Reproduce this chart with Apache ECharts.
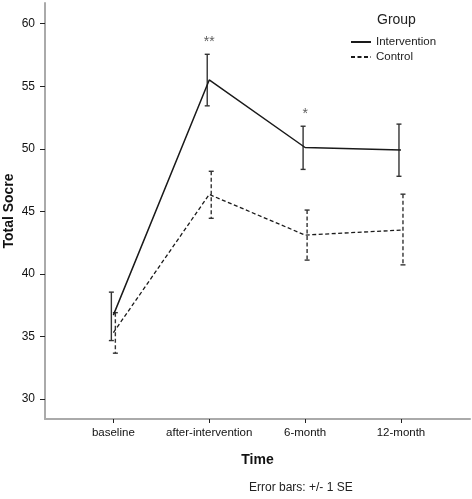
<!DOCTYPE html>
<html><head><meta charset="utf-8">
<script src="https://cdn.jsdelivr.net/npm/echarts@6/dist/echarts.min.js"></script>
<style>html,body{margin:0;padding:0;background:#fff}#c{width:472px;height:499px}</style>
</head><body><div id="c"></div>
<script>
const categories = ['baseline', 'after-intervention', '6-month', '12-month'];
const interventionMean = [36.7, 55.5, 50.1, 49.9];
const interventionLow = [34.67, 53.43, 48.35, 47.8];
const interventionHigh = [38.54, 57.55, 51.8, 51.97];
const controlMean = [35.3, 46.35, 43.1, 43.5];
const controlLow = [33.66, 44.44, 41.1, 40.72];
const controlHigh = [36.9, 48.2, 45.1, 46.37];
const significance = ['', '**', '*', ''];
const yTicks = [30, 35, 40, 45, 50, 55, 60];
const xPos = [1, 2, 3, 4];

const FONT = '"Liberation Sans", Arial, sans-serif';
const chart = echarts.init(document.getElementById('c'));

function errBar(dx, dash) {
  return function (params, api) {
    const x = api.value(0), lo = api.value(1), hi = api.value(2);
    const a = api.coord([x, hi]), b = api.coord([x, lo]);
    const cx = a[0] + dx, h = 2.5;
    const st = { stroke: '#333', lineWidth: 1.4, lineDash: dash };
    const capSt = { stroke: '#333', lineWidth: 1.4 };
    return { type: 'group', children: [
      { type: 'line', shape: { x1: cx, y1: a[1], x2: cx, y2: b[1] }, style: st },
      { type: 'line', shape: { x1: cx - h, y1: a[1], x2: cx + h, y2: a[1] }, style: capSt },
      { type: 'line', shape: { x1: cx - h, y1: b[1], x2: cx + h, y2: b[1] }, style: capSt }
    ]};
  };
}

chart.setOption({
  animation: false,
  textStyle: { fontFamily: FONT },
  title: { text: 'Group', left: 372, top: 8, textStyle: { fontSize: 14, fontWeight: 'normal', color: '#222', fontFamily: FONT } },
  legend: {
    orient: 'vertical', left: 345, top: 31, itemWidth: 20, itemHeight: 10, itemGap: 3,
    itemStyle: { opacity: 0 },
    textStyle: { fontSize: 11.5, color: '#222', fontFamily: FONT },
    data: ['Intervention', 'Control']
  },
  grid: { left: 45, right: 2, top: 3, bottom: 80, outerBoundsMode: 'none', containLabel: false },
  xAxis: {
    type: 'value', min: 0.287, max: 4.72,
    name: 'Time', nameLocation: 'middle', nameGap: 34,
    nameTextStyle: { fontSize: 14, fontWeight: 'bold', color: '#111' },
    axisLine: { onZero: false, lineStyle: { color: '#aaa', width: 2 } },
    axisTick: { show: true, customValues: xPos, length: 4, lineStyle: { color: '#222' } },
    axisLabel: { customValues: xPos, formatter: v => categories[Math.round(v) - 1] || '', fontSize: 11.5, color: '#111', margin: 8 },
    splitLine: { show: false }
  },
  yAxis: {
    type: 'value', min: 28.4, max: 61.65,
    axisLine: { show: true, lineStyle: { color: '#aaa', width: 2 } },
    axisTick: { show: true, customValues: yTicks, length: 5, lineStyle: { color: '#222' } },
    axisLabel: { customValues: yTicks, fontSize: 12, color: '#111', margin: 10 },
    splitLine: { show: false }
  },
  graphic: [
    { type: 'text', left: 249, top: 482, style: { text: 'Error bars: +/- 1 SE', font: '12px ' + FONT, fill: '#222' } },
    { type: 'text', x: 9, y: 211, rotation: Math.PI / 2,
      style: { text: 'Total Socre', font: 'bold 14px ' + FONT, fill: '#111', align: 'center', verticalAlign: 'middle' } }
  ],
  series: [
    { name: 'Intervention', type: 'line', symbol: 'none', data: xPos.map((x, i) => [x, interventionMean[i]]),
      lineStyle: { color: '#1a1a1a', width: 1.5, type: 'solid' }, itemStyle: { color: '#1a1a1a' }, z: 3 },
    { name: 'Control', type: 'line', symbol: 'none', data: xPos.map((x, i) => [x, controlMean[i]]),
      lineStyle: { color: '#1a1a1a', width: 1.3, type: [4, 2.5] }, itemStyle: { color: '#1a1a1a' }, z: 3 },
    { type: 'custom', renderItem: errBar(-2, null), data: xPos.map((x, i) => [x, interventionLow[i], interventionHigh[i]]), z: 2 },
    { type: 'custom', renderItem: errBar(2, [4, 2.5]), data: xPos.map((x, i) => [x, controlLow[i], controlHigh[i]]), z: 2 },
    { type: 'scatter', symbolSize: 0, silent: true,
      data: xPos.map((x, i) => ({ value: [x, interventionHigh[i]], label: { show: !!significance[i], formatter: significance[i] } })),
      label: { position: 'top', distance: 5, fontSize: 14, color: '#333' } }
  ]
});
</script></body></html>
